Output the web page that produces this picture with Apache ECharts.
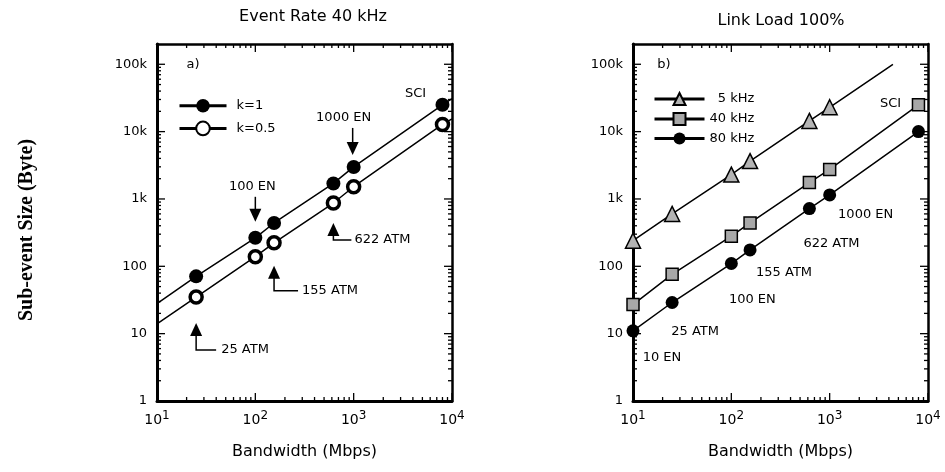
<!DOCTYPE html>
<html>
<head>
<meta charset="utf-8">
<script src="https://cdn.jsdelivr.net/npm/echarts@6/dist/echarts.min.js"></script>
<style>
    html, body { margin: 0; padding: 0; background: #fff; }
    #chart { width: 945px; height: 472px; }
</style>
</head>
<body>
<div id="chart"></div>
<script>
// values
// a) event rate 40 kHz
const bwA = [25, 100, 155, 622, 1000, 8000];
const k1Size = [71, 265, 440, 1700, 2990, 25000];
const k05Size = [35, 139, 223, 870, 1520, 12800];
const fitBwA = [10, 10000];
const k1Fit = [28, 31000];
const k05Fit = [14, 15500];

// b) link load 100%
const bwB = [10, 25, 100, 155, 622, 1000, 8000];
const size5k = [240, 600, 2300, 3650, 14400, 23000];
const end5k = [4400, 100000];
const size40k = [27, 76, 280, 440, 1750, 2750, 25000];
const size80k = [11, 29, 110, 175, 720, 1150, 10000];

// axes
const xMin = 10, xMax = 10000;
const yMin = 1, yMax = 200000;
const xTickValues = [10, 100, 1000, 10000];
const yTickValues = [1, 10, 100, 1000, 10000, 100000];
const yTickLabels = ['1', '10', '100', '1k', '10k', '100k'];

const FONT = '"DejaVu Sans", Verdana, sans-serif';

function minorTicks(lo, hi) {
    const out = [];
    for (let d = lo; d < hi; d *= 10) {
        for (let m = 2; m <= 9; m++) out.push(d * m);
    }
    return out;
}
const xMinor = minorTicks(xMin, xMax);
const yMinor = minorTicks(1, 1000000).filter(v => v < yMax);

function xAxes(grid) {
    const base = { type: 'log', logBase: 10, gridIndex: grid, min: xMin, max: xMax,
                   splitLine: { show: false }, axisTick: { show: false } };
    return [
        Object.assign({}, base, {
            position: 'bottom',
            name: 'Bandwidth (Mbps)',
            nameLocation: 'middle',
            nameGap: 43,
            nameTextStyle: { fontFamily: FONT, fontSize: 16, color: '#000' },
            axisLine: { show: true, onZero: false, lineStyle: { color: '#000', width: 3 } },
            axisLabel: {
                customValues: xTickValues,
                showMinLabel: true, showMaxLabel: true,
                margin: 9,
                color: '#000',
                formatter: v => '{b|10}{s|' + Math.round(Math.log10(v)) + '}',
                rich: {
                    b: { fontFamily: FONT, fontSize: 14, color: '#000' },
                    s: { fontFamily: FONT, fontSize: 12, color: '#000', padding: [0, 0, 9, 0] }
                }
            }
        }),
        Object.assign({}, base, {
            position: 'top',
            axisLine: { show: true, onZero: false, lineStyle: { color: '#000', width: 2.5 } },
            axisLabel: { show: false }
        })
    ];
}

function yAxes(grid) {
    const base = { type: 'log', logBase: 10, gridIndex: grid, min: yMin, max: yMax,
                   splitLine: { show: false }, axisTick: { show: false } };
    return [
        Object.assign({}, base, {
            position: 'left',
            axisLine: { show: true, onZero: false, lineStyle: { color: '#000', width: 3 } },
            axisLabel: {
                customValues: yTickValues,
                showMinLabel: true, showMaxLabel: true,
                margin: 10,
                color: '#000',
                fontFamily: FONT,
                fontSize: 13,
                formatter: v => yTickLabels[Math.round(Math.log10(v))]
            }
        }),
        Object.assign({}, base, {
            position: 'right',
            axisLine: { show: true, onZero: false, lineStyle: { color: '#000', width: 2.5 } },
            axisLabel: { show: false }
        })
    ];
}

// points with markers, plus bare end points for the fitted lines
function withEnds(bw, size, ends, endSizes) {
    const out = bw.map((x, i) => ({ value: [x, size[i]] }));
    if (ends) {
        out.unshift({ value: [ends[0], endSizes[0]], symbol: 'none' });
        out.push({ value: [ends[1], endSizes[1]], symbol: 'none' });
    }
    return out;
}

const chart = echarts.init(document.getElementById('chart'));

const option = {
    animation: false,
    backgroundColor: '#fff',
    title: [
        { text: 'Event Rate 40 kHz', left: 308, top: 4, textAlign: 'center',
          textStyle: { fontFamily: FONT, fontSize: 16, fontWeight: 'normal', color: '#000' } },
        { text: 'Link Load 100%', left: 776, top: 8, textAlign: 'center',
          textStyle: { fontFamily: FONT, fontSize: 16, fontWeight: 'normal', color: '#000' } }
    ],
    grid: [
        { left: 157, right: 493, top: 44, bottom: 71, containLabel: false },
        { left: 633, right: 17, top: 44, bottom: 71, containLabel: false }
    ],
    xAxis: xAxes(0).concat(xAxes(1)),
    yAxis: yAxes(0).concat(yAxes(1)),
    legend: [
        {
            data: ['k=1', 'k=0.5'],
            orient: 'vertical',
            left: 173, top: 94,
            itemWidth: 47, itemHeight: 17, itemGap: 8,
            lineStyle: { width: 3 },
            textStyle: { fontFamily: FONT, fontSize: 13, color: '#000', padding: [0, 0, 0, 5] }
        },
        {
            data: ['5 kHz', '40 kHz', '80 kHz'],
            orient: 'vertical',
            left: 648, top: 87,
            itemWidth: 50, itemHeight: 15, itemGap: 6,
            lineStyle: { width: 3 },
            formatter: name => name === '5 kHz' ? '  ' + name : name,
            textStyle: { fontFamily: FONT, fontSize: 13, color: '#000' }
        }
    ],
    series: [
        {
            name: 'k=1', type: 'line', xAxisIndex: 0, yAxisIndex: 0,
            data: withEnds(bwA, k1Size, fitBwA, k1Fit),
            symbol: 'circle', symbolSize: 14,
            lineStyle: { color: '#000', width: 1.5 },
            itemStyle: { color: '#000' }
        },
        {
            name: 'k=0.5', type: 'line', xAxisIndex: 0, yAxisIndex: 0,
            data: withEnds(bwA, k05Size, fitBwA, k05Fit),
            symbol: 'circle', symbolSize: 12,
            lineStyle: { color: '#000', width: 1.5 },
            itemStyle: { color: '#fff', borderColor: '#000', borderWidth: 3.5 }
        },
        {
            name: '5 kHz', type: 'line', xAxisIndex: 2, yAxisIndex: 2,
            data: bwB.slice(0, size5k.length).map((x, i) => ({ value: [x, size5k[i]] }))
                .concat([{ value: end5k, symbol: 'none' }]),
            symbol: 'triangle', symbolSize: 15,
            lineStyle: { color: '#000', width: 1.5 },
            itemStyle: { color: '#b4b4b4', borderColor: '#000', borderWidth: 1.5 }
        },
        {
            name: '40 kHz', type: 'line', xAxisIndex: 2, yAxisIndex: 2,
            data: withEnds(bwB, size40k),
            symbol: 'rect', symbolSize: 12,
            lineStyle: { color: '#000', width: 1.5 },
            itemStyle: { color: '#a8a8a8', borderColor: '#000', borderWidth: 1.5 }
        },
        {
            name: '80 kHz', type: 'line', xAxisIndex: 2, yAxisIndex: 2,
            data: withEnds(bwB, size80k),
            symbol: 'circle', symbolSize: 13,
            lineStyle: { color: '#000', width: 1.5 },
            itemStyle: { color: '#000' }
        }
    ]
};
chart.setOption(option);

// helpers that go through the axes of each panel
function px(axisIdx, x, y) { return chart.convertToPixel({ xAxisIndex: axisIdx, yAxisIndex: axisIdx }, [x, y]); }
function pA(x, y) { return px(0, x, y); }
function pB(x, y) { return px(2, x, y); }

const ink = { stroke: '#000', lineWidth: 1.5, fill: null };
const tickInk = { stroke: '#000', lineWidth: 1.3 };
const txtStyle = { fontFamily: FONT, fontSize: 13, fill: '#000' };

const graphics = [];

// inward ticks on all four sides of a panel
function addTicks(axisIdx) {
    const lo = px(axisIdx, xMin, yMin), hi = px(axisIdx, xMax, yMax);
    const bottom = lo[1], left = lo[0], top = hi[1], right = hi[0];
    const tick = (x1, y1, x2, y2) => graphics.push({ type: 'line', silent: true,
        shape: { x1: x1, y1: y1, x2: x2, y2: y2 }, style: tickInk });
    [[xTickValues, 8], [xMinor, 4]].forEach(([vals, len]) => vals.forEach(v => {
        const x = px(axisIdx, v, yMin)[0];
        tick(x, bottom, x, bottom - len);
        tick(x, top, x, top + len);
    }));
    [[yTickValues, 8], [yMinor, 4]].forEach(([vals, len]) => vals.forEach(v => {
        const y = px(axisIdx, xMin, v)[1];
        tick(left, y, left + len, y);
        tick(right, y, right - len, y);
    }));
}
addTicks(0);
addTicks(2);

function label(text, x, y, align) {
    return { type: 'text', x: x, y: y, silent: true,
             style: Object.assign({ text: text, align: align || 'center', verticalAlign: 'middle' }, txtStyle) };
}
function downArrow(x, tailY, tipY) {
    return [
        { type: 'polyline', silent: true, shape: { points: [[x, tailY], [x, tipY - 12]] }, style: ink },
        { type: 'polygon', silent: true, shape: { points: [[x - 6, tipY - 13], [x + 6, tipY - 13], [x, tipY]] }, style: { fill: '#000' } }
    ];
}
function upArrowL(x, tipY, cornerY, endX) {
    return [
        { type: 'polygon', silent: true, shape: { points: [[x - 6, tipY + 13], [x + 6, tipY + 13], [x, tipY]] }, style: { fill: '#000' } },
        { type: 'polyline', silent: true, shape: { points: [[x, tipY + 12], [x, cornerY], [endX, cornerY]] }, style: ink }
    ];
}

// panel labels and y axis title
graphics.push(label('a)', 193, 65));
graphics.push(label('b)', 664, 65));
graphics.push({ type: 'text', x: 27, y: 230, rotation: Math.PI / 2, silent: true,
    style: { text: 'Sub-event Size (Byte)', align: 'center', verticalAlign: 'middle',
             fontFamily: '"Liberation Serif", "Times New Roman", serif', fontWeight: 'bold', fontSize: 20, fill: '#000' } });

// panel a
let p = pA(bwA[4], k1Size[4]);
graphics.push(...downArrow(p[0] - 1, p[1] - 39, p[1] - 12), label('1000 EN', p[0] - 10, p[1] - 49));
p = pA(bwA[1], k1Size[1]);
graphics.push(...downArrow(p[0], p[1] - 41, p[1] - 16), label('100 EN', p[0] - 3, p[1] - 51));
p = pA(bwA[3], k05Size[3]);
graphics.push(...upArrowL(p[0], p[1] + 20, p[1] + 37, p[0] + 18), label('622 ATM', p[0] + 21, p[1] + 37, 'left'));
p = pA(bwA[2], k05Size[2]);
graphics.push(...upArrowL(p[0], p[1] + 23, p[1] + 48, p[0] + 24), label('155 ATM', p[0] + 28, p[1] + 48, 'left'));
p = pA(bwA[0], k05Size[0]);
graphics.push(...upArrowL(p[0], p[1] + 26, p[1] + 53, p[0] + 20), label('25 ATM', p[0] + 25, p[1] + 53, 'left'));
p = pA(bwA[5], k1Size[5]);
graphics.push(label('SCI', p[0] - 27, p[1] - 11));

// panel b
p = pB(bwB[6], size40k[6]);
graphics.push(label('SCI', p[0] - 28, p[1] - 1));
const notesB = [
    ['10 EN', 0, 29, 27],
    ['25 ATM', 1, 23, 29],
    ['100 EN', 2, 21, 36],
    ['155 ATM', 3, 34, 23],
    ['622 ATM', 4, 22, 35],
    ['1000 EN', 5, 36, 20]
];
notesB.forEach(n => {
    const q = pB(bwB[n[1]], size80k[n[1]]);
    graphics.push(label(n[0], q[0] + n[2], q[1] + n[3]));
});

chart.setOption({ graphic: graphics });

window.addEventListener('resize', function() {
    chart.resize();
});
</script>
</body>
</html>
